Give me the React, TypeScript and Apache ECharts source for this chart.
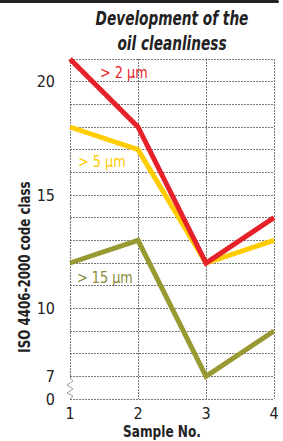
import React, { useEffect, useRef } from "react";
import * as echarts from "echarts";

const samples = [1, 2, 3, 4];
const seriesNames = ["> 2 µm", "> 5 µm", "> 15 µm"];
const values2um = [21, 18, 12, 14];
const values5um = [18, 17, 12, 13];
const values15um = [12, 13, 7, 9];
const colors = ["#e62129", "#ffcc00", "#999933"];
const yTickLabels: Record<number, string> = { 6: "0", 7: "7", 10: "10", 15: "15", 20: "20" };

const FONT = "'DejaVu Sans Condensed', 'Liberation Sans Narrow', sans-serif";

export default function App() {
  const ref = useRef<HTMLDivElement>(null);
  useEffect(() => {
    if (!ref.current) return;
    const chart = echarts.init(ref.current, undefined, { renderer: "svg" });
    const grid = { left: 70, right: 9, top: 59, bottom: 42 };
    const data = [values2um, values5um, values15um];
    chart.setOption({
      animation: false,
      backgroundColor: "#ffffff",
      grid,
      xAxis: {
        type: "value",
        min: 1,
        max: 4,
        interval: 1,
        axisLine: { show: false },
        axisTick: { show: false },
        axisLabel: { fontFamily: FONT, fontSize: 16, color: "#222", margin: 6 },
        splitLine: { show: true, lineStyle: { color: "#555", width: 0.8, type: [2, 1] } },
      },
      yAxis: {
        type: "value",
        min: 6,
        max: 21,
        interval: 1,
        axisLine: { show: false },
        axisTick: { show: false },
        axisLabel: {
          fontFamily: FONT,
          fontSize: 16,
          color: "#222",
          margin: 15,
          formatter: (v: number) => yTickLabels[v] ?? "",
        },
        splitLine: { show: true, lineStyle: { color: "#555", width: 0.8, type: [2, 1] } },
      },
      series: data.map((vals, i) => ({
        type: "line",
        name: seriesNames[i],
        data: samples.map((s, j) => [s, vals[j]]),
        symbol: "none",
        lineStyle: { color: colors[i], width: 5, join: "miter" },
        z: 10 - i,
      })),
      graphic: [
        { type: "rect", shape: { x: 0, y: 0, width: 279, height: 3, r: [0, 2, 2, 0] }, style: { fill: "#222" } },
        {
          type: "text",
          x: 172,
          y: 18,
          scaleX: 0.8,
          style: {
            text: "Development of the",
            font: `italic bold 19px ${FONT}`,
            fill: "#222",
            align: "center",
            verticalAlign: "middle",
          },
        },
        {
          type: "text",
          x: 172,
          y: 43,
          scaleX: 0.8,
          style: {
            text: "oil cleanliness",
            font: `italic bold 19px ${FONT}`,
            fill: "#222",
            align: "center",
            verticalAlign: "middle",
          },
        },
        {
          type: "text",
          x: 25,
          y: 267,
          rotation: Math.PI / 2,
          scaleX: 0.88,
          style: {
            text: "ISO 4406-2000 code class",
            font: `bold 15px ${FONT}`,
            fill: "#222",
            align: "center",
            verticalAlign: "middle",
          },
        },
        {
          type: "text",
          x: 162,
          y: 432,
          scaleX: 0.9,
          style: {
            text: "Sample No.",
            font: `bold 15px ${FONT}`,
            fill: "#222",
            align: "center",
            verticalAlign: "middle",
          },
        },
        { type: "rect", shape: { x: 68, y: 378, width: 4, height: 21 }, style: { fill: "#fff" }, z: 5 },
        {
          type: "polyline",
          shape: { points: [[70, 378], [73, 381], [67, 385], [73, 389], [67, 393], [73, 396], [70, 399]] },
          style: { stroke: "#888", lineWidth: 0.8, fill: "none" },
          z: 6,
        },
        {
          type: "text",
          x: 100,
          y: 72,
          scaleX: 0.95,
          style: { text: seriesNames[0], font: `15px ${FONT}`, fill: colors[0], verticalAlign: "middle" },
        },
        {
          type: "text",
          x: 78,
          y: 161,
          scaleX: 0.95,
          style: { text: seriesNames[1], font: `15px ${FONT}`, fill: colors[1], verticalAlign: "middle" },
        },
        {
          type: "text",
          x: 77,
          y: 277,
          scaleX: 0.95,
          style: { text: seriesNames[2], font: `15px ${FONT}`, fill: "#8a8a3a", verticalAlign: "middle" },
        },
      ],
    });
    return () => chart.dispose();
  }, []);
  return <div ref={ref} style={{ width: 283, height: 441, position: "absolute", left: 0, top: 0 }} />;
}
